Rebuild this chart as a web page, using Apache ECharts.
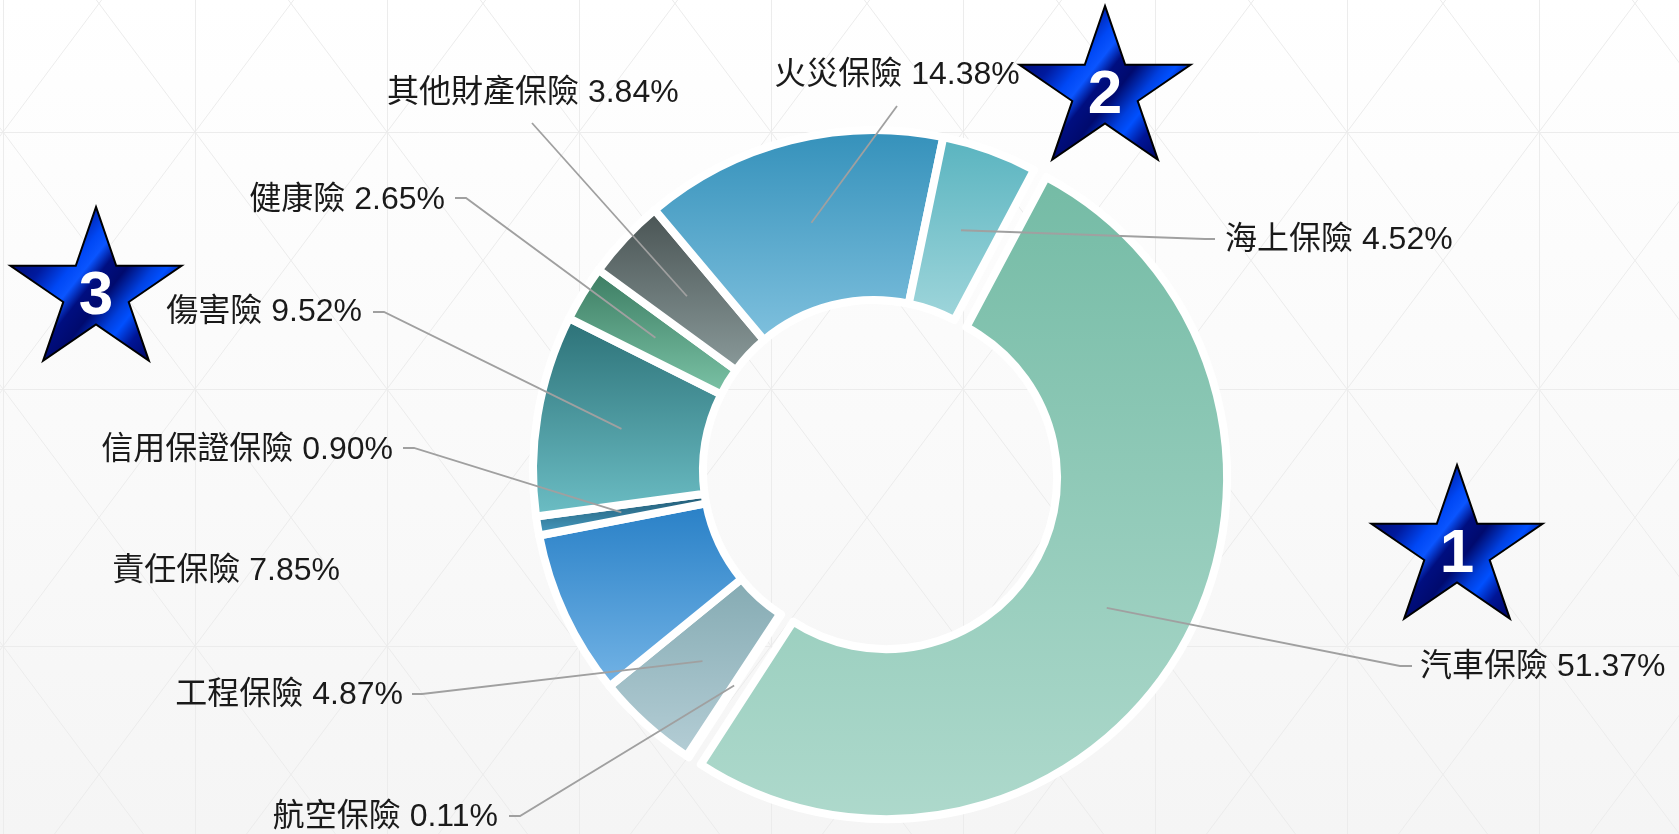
<!DOCTYPE html>
<html>
<head>
<meta charset="utf-8">
<script src="https://cdn.jsdelivr.net/npm/echarts@6/dist/echarts.min.js"></script>
<style>
html,body{margin:0;padding:0;background:#ffffff;}
#chart{width:1679px;height:834px;}
</style>
</head>
<body>
<div id="chart"></div>
<script>
// ---------------- data ----------------
const categories = ['汽車保險','航空保險','工程保險','責任保險','信用保證保險','傷害險','健康險','其他財產保險','火災保險','海上保險'];
const shares = [51.37, 0.11, 4.87, 7.85, 0.90, 9.52, 2.65, 3.84, 14.38, 4.52];
const rankNumbers = ['1', '2', '3'];

// ---------------- styles / layout ----------------
const sliceColors = [
  ['#74bba5', '#aed9cc'],
  ['#ffffff', '#ffffff'],
  ['#84aab2', '#b5ced6'],
  ['#277fc6', '#74b4e6'],
  ['#1c5068', '#4ba4cb'],
  ['#2b7076', '#6dbfc6'],
  ['#3a7a60', '#7dc5a8'],
  ['#485252', '#8b9b9b'],
  ['#3390ba', '#80c1de'],
  ['#58b3bf', '#a0d6db']
];
const explodedIndex = 0;
const hideLine = [false, false, false, true, false, false, false, false, false, false];
const PIE_CENTER = [874, 471];
const BW = 8;
const PIE_RADIUS = [171, 341];
const START_ANGLE = 62;
const EXPLODE = 14;
const FONT = "'Liberation Sans', 'Noto Sans CJK TC', sans-serif";

// label anchor positions
const labelPos = [
  {x: 1420, y: 667, align: 'left',   pts: [[1400, 666], [1412, 666]]},
  {x: 498,  y: 817, align: 'right',  pts: [[520, 816], [509, 816]]},
  {x: 403,  y: 695, align: 'right',  pts: [[422, 694], [412, 694]]},
  {x: 340,  y: 571, align: 'right',  pts: null},
  {x: 393,  y: 450, align: 'right',  pts: [[414, 448], [403, 448]]},
  {x: 362,  y: 312, align: 'right',  pts: [[384, 312], [373, 312]]},
  {x: 445,  y: 200, align: 'right',  pts: [[466, 198], [455, 198]]},
  {x: 387,  y: 93,  align: 'left',   pts: [[532, 123], [532, 123]]},
  {x: 897,  y: 75,  align: 'center', pts: [[897, 106], [897, 106]]},
  {x: 1225, y: 240, align: 'left',   pts: [[1205, 239], [1215, 239]]}
];

const stars = [
  {cx: 1457, cy: 550},
  {cx: 1105, cy: 91},
  {cx: 96,   cy: 292}
];

const chart = echarts.init(document.getElementById('chart'), null, {renderer: 'canvas'});

// ---------------- background lattice ----------------
const W = 1679, H = 834;
const lattice = [];
const LC = '#ececec';
for (let x = 3; x < W; x += 192) {
  lattice.push({type: 'line', silent: true, shape: {x1: x + 0.5, y1: 0, x2: x + 0.5, y2: H}, style: {stroke: LC, lineWidth: 1}});
}
for (let y = 132; y < H; y += 257) {
  lattice.push({type: 'line', silent: true, shape: {x1: 0, y1: y + 0.5, x2: W, y2: y + 0.5}, style: {stroke: LC, lineWidth: 1}});
}
const slope = 128.5 / 96;
for (let x0 = 3 - 192 * 4; x0 < W + 192 * 4; x0 += 192) {
  lattice.push({type: 'line', silent: true, shape: {x1: x0 - 132 / slope, y1: 0, x2: x0 + (H - 132) / slope, y2: H}, style: {stroke: LC, lineWidth: 1}});
  lattice.push({type: 'line', silent: true, shape: {x1: x0 + 132 / slope, y1: 0, x2: x0 - (H - 132) / slope, y2: H}, style: {stroke: LC, lineWidth: 1}});
}

// ---------------- stars ----------------
function starPoints(cx, cy, ro, ri, sy) {
  const pts = [];
  for (let k = 0; k < 10; k++) {
    const a = (-90 + k * 36) * Math.PI / 180;
    const r = k % 2 ? ri : ro;
    pts.push([cx + r * Math.cos(a), cy + r * Math.sin(a) * sy]);
  }
  return pts;
}
function starFill() {
  return new echarts.graphic.LinearGradient(0.1, 0.15, 0.9, 0.85, [
    {offset: 0, color: '#00086a'},
    {offset: 0.2, color: '#001a9e'},
    {offset: 0.33, color: '#0048f5'},
    {offset: 0.4, color: '#0a55ff'},
    {offset: 0.48, color: '#000e80'},
    {offset: 0.58, color: '#000a6e'},
    {offset: 0.7, color: '#0040e0'},
    {offset: 0.76, color: '#0050ff'},
    {offset: 0.86, color: '#001596'},
    {offset: 1, color: '#000766'}
  ]);
}
const starEls = [];
stars.forEach((s, i) => {
  starEls.push({
    type: 'polygon', silent: true, z: 100,
    shape: {points: starPoints(s.cx, s.cy, 90, 34.4, 0.945)},
    style: {fill: starFill(), stroke: '#000000', lineWidth: 2}
  });
  starEls.push({
    type: 'text', silent: true, z: 101,
    x: s.cx, y: s.cy + 5,
    style: {text: rankNumbers[i], fill: '#ffffff', font: 'bold 62px ' + FONT, align: 'center', verticalAlign: 'middle'}
  });
});

// ---------------- pie geometry helpers ----------------
const total = shares.reduce((a, b) => a + b, 0);
function midAngleOf(idx) {
  let acc = 0;
  for (let k = 0; k < idx; k++) acc += shares[k];
  const deg = -START_ANGLE + (acc + shares[idx] / 2) / total * 360;
  return deg * Math.PI / 180;
}
const explodeMid = midAngleOf(explodedIndex);
const explodedCenter = [PIE_CENTER[0] + EXPLODE * Math.cos(explodeMid), PIE_CENTER[1] + EXPLODE * Math.sin(explodeMid)];

const hidden = {color: 'rgba(0,0,0,0)', borderWidth: 0};
function grad(i) {
  return new echarts.graphic.LinearGradient(0, 0, 0, 1, [
    {offset: 0, color: sliceColors[i][0]},
    {offset: 1, color: sliceColors[i][1]}
  ]);
}
const ringData = categories.map((name, i) => ({
  name: name, value: shares[i],
  itemStyle: i === explodedIndex ? hidden : {color: grad(i), borderColor: '#ffffff', borderWidth: BW}
}));
const explodedData = categories.map((name, i) => ({
  name: name, value: shares[i],
  itemStyle: i === explodedIndex ? {color: grad(i), borderColor: '#ffffff', borderWidth: BW} : hidden
}));
const labelData = categories.map((name, i) => ({
  name: name, value: shares[i],
  itemStyle: hidden,
  labelLine: {show: !hideLine[i]}
}));

function layoutLabel(p) {
  const i = p.dataIndex;
  const L = labelPos[i];
  const out = {x: L.x, y: L.y, align: L.align, verticalAlign: 'middle'};
  if (L.pts) {
    const data = chart.getModel().getSeriesByIndex(2).getData();
    const lay = data.getItemLayout(i);
    const mid = (lay.startAngle + lay.endAngle) / 2;
    const rm = (lay.r + lay.r0) / 2 + (i === explodedIndex ? EXPLODE : 0);
    const sx = lay.cx + rm * Math.cos(mid);
    const sy = lay.cy + rm * Math.sin(mid);
    out.labelLinePoints = [[sx, sy]].concat(L.pts);
  }
  return out;
}

const common = {
  type: 'pie',
  radius: PIE_RADIUS,
  startAngle: START_ANGLE,
  clockwise: true,
  avoidLabelOverlap: false,
  silent: true,
  emphasis: {disabled: true}
};

const option = {
  animation: false,
  backgroundColor: new echarts.graphic.LinearGradient(0, 0, 0, 1, [
    {offset: 0, color: '#ffffff'},
    {offset: 1, color: '#f5f5f5'}
  ]),
  graphic: [
    {type: 'group', z: -10, silent: true, children: lattice},
    {type: 'group', z: 100, silent: true, children: starEls}
  ],
  series: [
    Object.assign({}, common, {
      name: 'ring', z: 2, center: PIE_CENTER,
      label: {show: false}, labelLine: {show: false},
      data: ringData
    }),
    Object.assign({}, common, {
      name: 'exploded', z: 2, center: explodedCenter,
      label: {show: false}, labelLine: {show: false},
      data: explodedData
    }),
    Object.assign({}, common, {
      name: 'labels', z: 5, center: PIE_CENTER,
      label: {
        show: true,
        position: 'outside',
        color: '#1a1a1a',
        fontSize: 32,
        fontFamily: FONT,
        formatter: p => p.name + ' ' + p.value.toFixed(2) + '%'
      },
      labelLine: {show: true, lineStyle: {color: '#a0a0a0', width: 1.8}},
      labelLayout: layoutLabel,
      data: labelData
    })
  ]
};
chart.setOption(option);
</script>
</body>
</html>
